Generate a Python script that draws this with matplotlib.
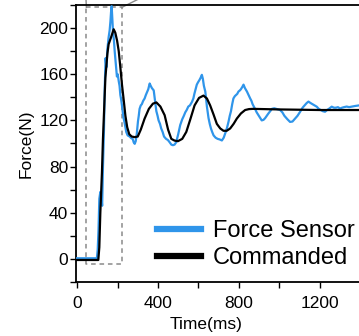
import matplotlib.pyplot as plt
from matplotlib.ticker import MultipleLocator

plt.rcParams['font.family'] = ['Liberation Sans', 'DejaVu Sans']

# commanded force (ms, N)
cmd_t = [0, 50, 105, 110, 115, 123, 128, 140, 150, 156, 168, 181, 189, 198, 206, 214, 222,
         231, 239, 248, 258, 270, 285, 300, 315, 334, 355, 375, 392, 412, 433, 450, 466,
         482, 499, 520, 540, 560, 581, 603, 625, 642, 658, 675, 691, 708, 724, 740, 757,
         774, 790, 810, 831, 850, 870, 1000, 1200, 1400]
cmd_f = [-1, -1, -1, 10, 40, 75, 104, 157, 178, 186, 192, 199, 196, 189, 180, 166, 151,
         137, 124, 114, 108, 106, 105.5, 106, 112, 121.6, 130, 134.5, 135.6, 132, 124.5, 112, 104,
         102.5, 102, 104, 110, 121, 133, 139.5, 141.5, 139, 133, 125, 117, 113, 111, 111, 113,
         117, 121.6, 126, 129, 129.8, 130, 129.5, 129, 129]

# force sensor reading (ms, N)
sen_t = [0, 50, 98, 102, 106, 110, 115, 120, 124, 128, 133, 137, 141, 145, 150, 156, 161,
         165, 168, 171, 175, 178, 182, 186, 189, 193, 197, 201, 206, 210, 214, 218, 222,
         226, 230, 236, 243, 250, 260, 268, 275, 280, 285, 290, 295, 301, 305, 309, 315,
         320, 327, 334, 340, 345, 352, 359, 364, 370, 379, 386, 392, 398, 403, 410, 416,
         423, 430, 440, 449, 458, 466, 474, 482, 490, 500, 510, 520, 528, 535, 542, 550,
         558, 568, 575, 580, 586, 592, 598, 605, 611, 617, 622, 627, 634, 642, 650, 656,
         662, 668, 675, 685, 695, 705, 716, 725, 735, 742, 749, 755, 761, 767, 773, 780,
         786, 792, 798, 805, 810, 817, 823, 830, 840, 848, 856, 862, 868, 874, 880, 888,
         895, 905, 913, 922, 930, 938, 946, 955, 963, 975, 985, 995, 1004, 1015, 1025,
         1040, 1053, 1065, 1075, 1090, 1103, 1115, 1125, 1135, 1144, 1155, 1165, 1175, 1185,
         1195, 1205, 1215, 1226, 1236, 1245, 1252, 1259, 1270, 1280, 1290, 1300, 1310, 1320,
         1333, 1345, 1360, 1375, 1394]
sen_f = [0.5, 0.5, 0.5, 8, 25, 52, 58, 54, 46, 80, 112, 150, 174, 166, 182, 192, 198,
         206, 214, 219, 205, 196, 190, 180, 174, 166, 158, 160, 154, 150, 142, 138, 133,
         127, 122, 117, 110, 107, 106, 104.5, 104, 101, 99.7, 102, 108, 119, 124, 130, 133,
         134, 137, 139, 142, 144, 147, 152, 150, 148, 146, 136, 128, 124, 120, 117, 113,
         110, 106, 104, 103, 101, 99, 98.5, 99, 101, 108, 116, 121, 124, 127, 129, 132,
         133, 136, 139, 143, 147, 151, 153, 155, 157, 159.5, 156, 150, 145, 132, 122, 117,
         113, 110, 107, 105, 104, 103.5, 102.6, 105, 110, 114, 119, 124, 128, 134, 139, 141,
         142, 143, 145, 146, 147, 149, 151, 148, 145, 142, 139, 137, 134, 132, 130, 127,
         125, 122, 120, 120.5, 122, 124, 126, 128, 130, 130.5, 130, 129.5, 129, 127, 124,
         121, 118.7, 119, 121, 124, 127.5, 131, 133, 135, 136.3, 135, 134, 133, 131.9,
         130, 129, 128, 127.5, 129, 130, 131, 131.9, 131, 131, 131.5, 130.3, 131, 131.5,
         132, 131.5, 132, 132.5, 133]

blue = '#2f95ea'

fig = plt.figure(figsize=(3.59, 3.36), dpi=100)
ax = fig.add_axes([0.213, 0.161, 0.787, 0.824])

ax.plot(sen_t, sen_f, color=blue, lw=1.6, label='Force Sensor', zorder=3)
ax.plot(cmd_t, cmd_f, color='black', lw=1.6, label='Commanded', zorder=4)

# zoom box and its connector lines
box_x = [46, 222, 222, 46, 46]
box_y = [218, 218, -4.6, -4.6, 218]
ax.plot(box_x, box_y, color='#8a8a8a', lw=1.1, ls=(0, (3, 2.5)), zorder=2)
ax.plot([46, 40], [218, 240], color='#8a8a8a', lw=1.0, clip_on=False)
ax.plot([222, 700], [218, 260], color='#8a8a8a', lw=1.0, clip_on=False)

ax.set_xlim(-3, 1394)
ax.set_ylim(-20, 220)
ax.set_xticks([0, 400, 800, 1200])
ax.set_yticks([0, 40, 80, 120, 160, 200])
ax.xaxis.set_minor_locator(MultipleLocator(200))
ax.yaxis.set_minor_locator(MultipleLocator(20))
ax.tick_params(which='both', direction='out', labelsize=12.5, width=1.0, color='black')
ax.tick_params(which='major', length=4)
ax.tick_params(which='minor', length=4)
ax.tick_params(axis='y', which='major', pad=2)
ax.tick_params(axis='x', which='major', pad=6)

for side in ['left', 'bottom', 'top']:
    ax.spines[side].set_linewidth(1.3)
ax.spines['right'].set_visible(False)

ax.set_ylabel('Force(N)', fontsize=12.5)
ax.set_xlabel('Time(ms)', fontsize=12.5)
ax.xaxis.set_label_coords(0.46, -0.125)
ax.yaxis.set_label_coords(-0.15, 0.5)

leg = ax.legend(loc='lower right', bbox_to_anchor=(1.061, -0.03), frameon=False,
                fontsize=17, handlelength=1.9, handletextpad=0.5, labelspacing=0.22)
for h in leg.get_lines():
    h.set_linewidth(4.5)

fig.savefig('out.png', dpi=100)
